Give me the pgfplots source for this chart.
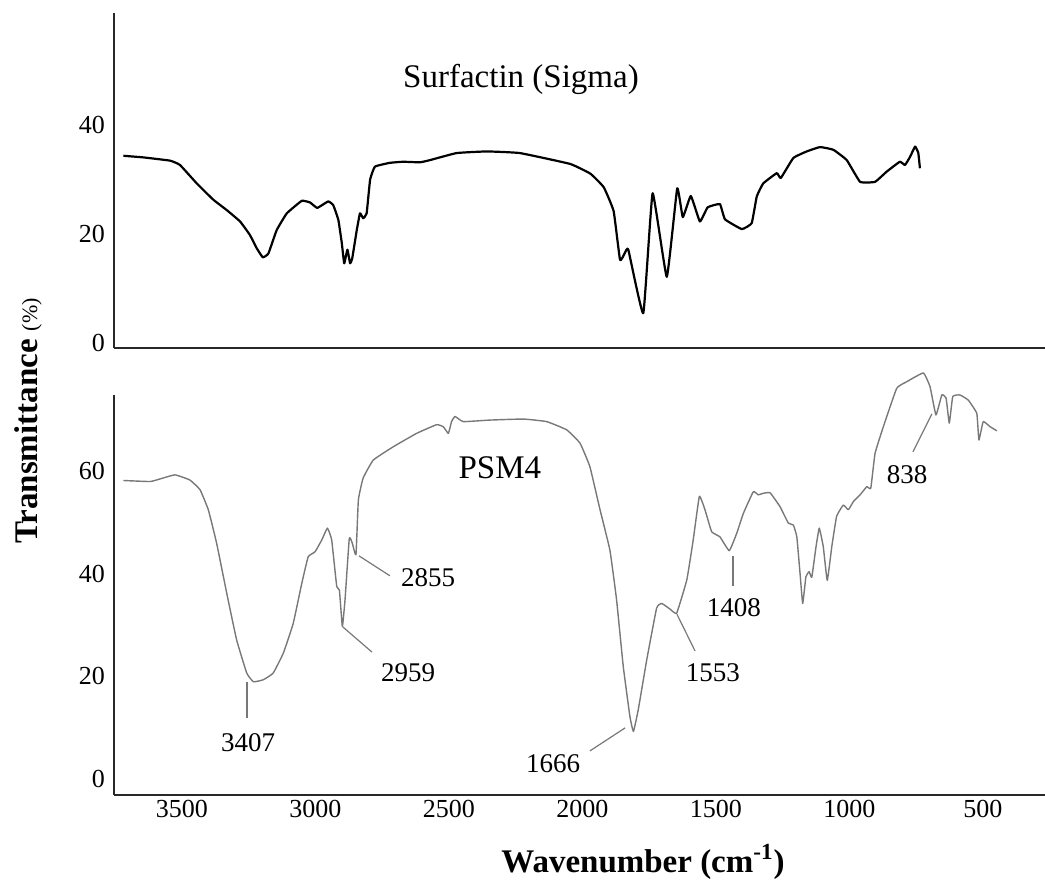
\documentclass[border=0pt]{standalone}
\usepackage{pgfplots}
\pgfplotsset{compat=1.18}
\usepackage{fontspec}
\setmainfont{Liberation Serif}

\definecolor{specgray}{RGB}{120,120,120}
\definecolor{axisdark}{RGB}{40,40,40}

\pgfplotsset{
  irpanel/.style={
    scale only axis,
    width=465.5pt,
    x dir=reverse,
    xmin=267.6, xmax=3754.2,
    axis x line=bottom, axis y line=left,
    axis line style={-, axisdark, line width=0.8pt},
    major tick length=0pt,
    tick style={draw=none},
    enlargelimits=false,
    clip=false,
    /pgf/number format/assume math mode=true,
    /pgf/number format/set thousands separator={},
    ticklabel style={font=\fontsize{13}{15}\selectfont, text=black},
    yticklabel style={xshift=-1pt},
  },
}
\tikzset{peaklabel/.style={font=\fontsize{13.5}{15}\selectfont}}

\begin{document}
\begin{tikzpicture}
\useasboundingbox (-57pt,-45.5pt) rectangle (465.5pt,397.5pt);

% ---------- upper panel: commercial surfactin ----------
\begin{axis}[irpanel,
  at={(0pt,223.5pt)}, anchor=south west,
  height=167.5pt,
  ymin=-1.0, ymax=60.7,
  ytick={0,20,40},
  xtick=\empty,
]
\addplot[black, line width=1.1pt, line join=round, smooth, tension=0.2] coordinates {
(3719,34.4) (3644,34.1) (3544,33.5) (3507,32.7) (3444,29.3) (3382,26.3)
(3332,24.4) (3282,22.3) (3245,19.8) (3220,17.4) (3197,15.7) (3176,16.4)
(3145,20.7) (3107,23.8) (3051,26.1) (3020,25.8) (2993,24.8) (2952,26.0)
(2933,25.3) (2914,22.6) (2901,18.3) (2892,14.6) (2880,17.1) (2870,14.6)
(2862,15.5) (2845,20.7) (2833,23.8) (2821,22.9) (2808,23.8) (2795,30.0)
(2777,32.4) (2721,33.1) (2671,33.3) (2608,33.2) (2571,33.6) (2471,34.9)
(2358,35.2) (2234,34.9) (2046,32.9) (1970,31.1) (1920,28.6) (1883,24.2)
(1859,15.2) (1840,16.6) (1828,17.1) (1772,5.4) (1737,27.5) (1684,12.1)
(1645,28.4) (1624,23.1) (1594,27.0) (1560,22.3) (1531,24.9) (1485,25.5)
(1466,22.7) (1403,20.9) (1366,22.0) (1347,26.9) (1323,29.3) (1272,31.2)
(1257,30.3) (1210,34.0) (1160,35.2) (1110,36.0) (1060,35.5) (1010,33.6)
(960,29.6) (904,29.6) (860,31.5) (811,33.3) (792,32.7) (773,34.2)
(754,36.1) (742,34.9) (736,32.1)
};
\node[font=\fontsize{16.5}{19}\selectfont] at (axis cs:2230,48.4) {Surfactin (Sigma)};
\end{axis}

% ---------- lower panel: PSM4 isolate ----------
\begin{axis}[irpanel,
  at={(0pt,0pt)}, anchor=south west,
  height=200pt,
  ymin=-3.2, ymax=74.9,
  ytick={0,20,40,60},
  xtick={500,1000,1500,2000,2500,3000,3500},
  xticklabel style={yshift=1pt},
]
\addplot[specgray, line width=0.7pt, line join=round, smooth, tension=0.2] coordinates {
(3719,58.2) (3619,58.0) (3582,58.5) (3526,59.3) (3470,58.3) (3432,56.4)
(3401,52.5) (3370,46.0) (3332,36.2) (3295,27.1) (3257,20.6) (3232,18.9)
(3195,19.3) (3158,20.6) (3120,24.5) (3083,30.3) (3051,38.1) (3027,43.3)
(3001,44.3) (2976,46.6) (2955,48.9) (2939,46.6) (2920,37.5) (2910,36.8)
(2899,29.7) (2889,34.9) (2873,46.9) (2862,46.0) (2848,43.7) (2839,54.4)
(2821,58.7) (2783,62.2) (2708,64.8) (2621,67.4) (2546,69.1) (2521,68.7)
(2502,67.4) (2490,69.7) (2477,70.7) (2446,69.7) (2346,70.0) (2221,70.2)
(2134,69.7) (2059,68.1) (2009,65.5) (1972,60.9) (1934,52.5) (1897,44.6)
(1872,34.9) (1847,21.9) (1822,12.1) (1809,9.2) (1791,13.4) (1759,23.2)
(1722,33.3) (1703,34.2) (1672,33.1) (1647,32.3) (1609,38.8) (1585,46.6)
(1562,55.1) (1541,52.5) (1516,48.2) (1485,47.2) (1450,44.5) (1422,47.9)
(1397,51.8) (1360,56.0) (1341,55.4) (1323,55.7) (1297,55.8) (1260,53.1)
(1229,49.9) (1210,49.5) (1197,47.2) (1185,40.1) (1175,34.2) (1163,39.4)
(1151,40.4) (1141,39.3) (1125,45.3) (1113,48.9) (1098,45.3) (1083,38.7)
(1066,45.3) (1048,51.2) (1023,53.4) (1004,52.5) (985,54.1) (960,55.4)
(935,57.0) (920,56.7) (904,63.5) (873,68.7) (823,76.2) (785,77.5)
(723,79.2) (698,76.5) (676,71.0) (654,74.9) (638,74.3) (626,69.4)
(613,74.6) (586,74.9) (555,73.9) (523,71.3) (515,66.1) (499,69.7)
(473,68.7) (448,67.9)
};
% peak assignments
\draw[specgray, line width=0.6pt] (axis cs:3256,18.9) -- (axis cs:3256,11.8);
\node[peaklabel] at (axis cs:3252,7.1) {3407};
\draw[specgray, line width=0.6pt] (axis cs:2897,29.6) -- (axis cs:2788,24.7);
\node[peaklabel] at (axis cs:2653,20.6) {2959};
\draw[specgray, line width=0.6pt] (axis cs:2837,43.5) -- (axis cs:2721,39.6);
\node[peaklabel] at (axis cs:2578,39.2) {2855};
\draw[specgray, line width=0.6pt] (axis cs:1840,9.9) -- (axis cs:1972,5.4);
\node[peaklabel] at (axis cs:2110,3.0) {1666};
\draw[specgray, line width=0.6pt] (axis cs:1646,32.1) -- (axis cs:1578,24.9);
\node[peaklabel] at (axis cs:1511,20.6) {1553};
\draw[specgray, line width=0.6pt] (axis cs:1436,43.5) -- (axis cs:1436,37.6);
\node[peaklabel] at (axis cs:1433,33.3) {1408};
\draw[specgray, line width=0.6pt] (axis cs:691,71.2) -- (axis cs:762,63.8);
\node[peaklabel] at (axis cs:784,59.3) {838};
\node[font=\fontsize{16.5}{19}\selectfont] at (axis cs:2309,60.7) {PSM4};
\end{axis}

% shared axis titles
\node[rotate=90] at (-43pt,187pt)
  {\fontsize{16.5}{19}\selectfont\bfseries Transmittance \mdseries\fontsize{11}{13}\selectfont(\%)};
\node at (264.5pt,-33.5pt)
  {\fontsize{16.5}{19}\selectfont\bfseries Wavenumber (cm\textsuperscript{-1})};
\end{tikzpicture}
\end{document}
